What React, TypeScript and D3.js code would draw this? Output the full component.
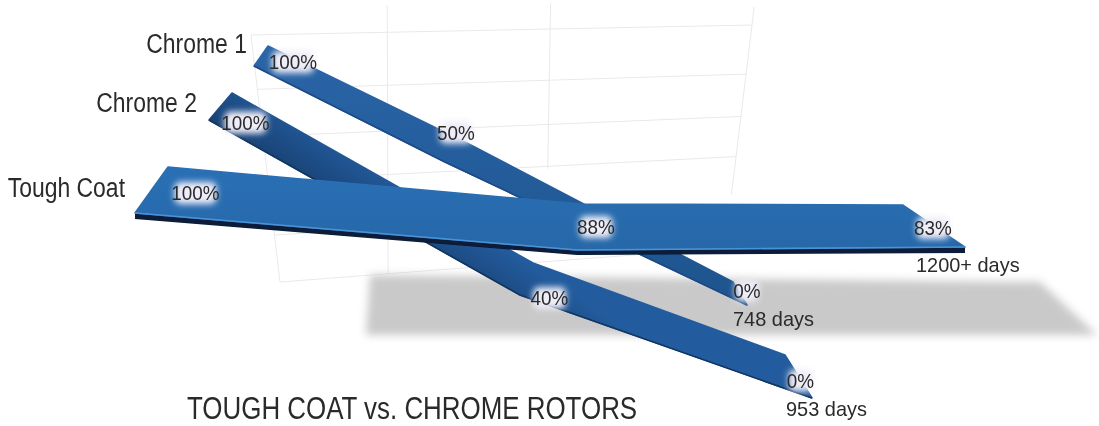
import React from 'react';
import * as d3 from 'd3';

const WIDTH = 1099;
const HEIGHT = 426;

// values
const seriesNames = ['Chrome 1', 'Chrome 2', 'Tough Coat'];
const chrome1Days = [0, 374, 748];
const chrome1Life = [100, 50, 0];
const chrome2Days = [0, 572, 953];
const chrome2Life = [100, 40, 0];
const toughDays = [0, 600, 1200];
const toughLife = [100, 88, 83];
const lifeLabels = [
  ['100%', '50%', '0%'],
  ['100%', '40%', '0%'],
  ['100%', '88%', '83%'],
];
const endLabels = ['748 days', '953 days', '1200+ days'];
const chartTitle = 'TOUGH COAT vs. CHROME ROTORS';

// grid ticks, as fractions of the floor/wall box
const gridRows = [0, 0.22, 0.41, 0.59, 0.81, 1];
const gridRowEnds = [1, 1, 1, 1, 0.25, 0.8];
const gridColsTop = [0, 0.275, 0.597, 1];
const gridColsBottom = [0, 0.243, 0.598, 1];
const gridColStarts = [0, -0.11, -0.11, -0.08];
const gridColEnds = [1, 1, 0.6, 0.76];

const FONT = '"Liberation Sans", Arial, sans-serif';
const INK = '#2b2b2b';

// the drawing is a hand-made perspective: each ribbon has its own projection
const lanes = [
  {
    days: chrome1Days, life: chrome1Life,
    backX: [268, 467, 733], backY: [46, 143, 282],
    frontX: [254, 445, 747], frontY: [66, 162, 305],
    fill: 'url(#chrome1Fill)', edge: '#1c4a85',
    labelDx: [32, 0, 7], labelDy: [6, -20, -3],
    endDx: -14, endDy: 21,
    nameDx: -21, nameDy: 7,
  },
  {
    days: chrome2Days, life: chrome2Life,
    backX: [232, 533, 785], backY: [93, 263, 355],
    frontX: [209, 520, 812], frontY: [120, 295, 398],
    fill: 'url(#chrome2Fill)', edge: '#12345f',
    labelDx: [25, 23, 2], labelDy: [16, 19, 4],
    endDx: -26, endDy: 18,
    nameDx: -35, nameDy: 19,
  },
  {
    days: toughDays, life: toughLife,
    backX: [168, 581, 903], backY: [167, 204, 205],
    frontX: [135, 577, 965], frontY: [213, 250, 247],
    fill: 'url(#toughFill)', edge: '#4a93d8',
    labelDx: [44, 17, -1], labelDy: [3, 0, 2],
    endDx: -49, endDy: 25,
    nameDx: -43, nameDy: 30,
  },
];

const laneScales = (lane: (typeof lanes)[number]) => ({
  backX: d3.scaleLinear().domain(lane.days).range(lane.backX),
  backY: d3.scaleLinear().domain(lane.life).range(lane.backY),
  frontX: d3.scaleLinear().domain(lane.days).range(lane.frontX),
  frontY: d3.scaleLinear().domain(lane.life).range(lane.frontY),
});

// grid box corners
const gridLeftX = d3.scaleLinear().domain([0, 1]).range([251, 280]);
const gridRightX = d3.scaleLinear().domain([0, 1]).range([752, 725]);
const gridLeftY = d3.scaleLinear().domain([0, 1]).range([35, 282]);
const gridRightY = d3.scaleLinear().domain([0, 1]).range([25, 248]);
const gridPoint = (c: number, r: number): [number, number] => [
  d3.interpolateNumber(gridLeftX(r), gridRightX(r))(c),
  d3.interpolateNumber(gridLeftY(r), gridRightY(r))(c),
];

// grey floor shadow is the tough coat ribbon laid flat
const shadowX = d3.scaleLinear().domain([0, 1200]).range([366, 1097]);
const shadowBackX = d3.scaleLinear().domain([0, 1200]).range([370, 1040]);
const shadowBackY = d3.scaleLinear().domain([0, 1200]).range([275, 282]);
const shadowFrontY = 335;

const line = d3.line();

// no narrow face is installed, so squeeze the regular one
const squeeze = (x: number, y: number, sx: number) => `translate(${x},${y}) scale(${sx},1)`;

const App: React.FC = () => {
  const shadowPath = line([
    [shadowBackX(0), shadowBackY(0)],
    [shadowBackX(1200), shadowBackY(1200)],
    [shadowX(1200), shadowFrontY],
    [shadowX(0), shadowFrontY],
  ]) + 'Z';

  return (
    <svg
      width={WIDTH}
      height={HEIGHT}
      viewBox={`0 0 ${WIDTH} ${HEIGHT}`}
      style={{ position: 'absolute', left: 0, top: 0, background: '#fff' }}
    >
      <defs>
        <filter id="soft" x="-10%" y="-30%" width="120%" height="160%">
          <feGaussianBlur stdDeviation="4" />
        </filter>
        <filter id="glow" x="-40%" y="-60%" width="180%" height="220%">
          <feGaussianBlur stdDeviation="3" />
        </filter>
        <filter id="jpeg" x="-5%" y="-20%" width="110%" height="140%">
          <feGaussianBlur stdDeviation="0.35" />
        </filter>
        <filter id="edgeBlur" x="-5%" y="-5%" width="110%" height="110%">
          <feGaussianBlur stdDeviation="0.5" />
        </filter>
        <linearGradient id="chrome1Fill" x1="0" y1="0" x2="0.1" y2="1">
          <stop offset="0" stopColor="#2a65a8" />
          <stop offset="1" stopColor="#1f558f" />
        </linearGradient>
        <linearGradient id="chrome2Fill" gradientUnits="userSpaceOnUse" x1="330" y1="130" x2="300" y2="175">
          <stop offset="0" stopColor="#235c9e" />
          <stop offset="1" stopColor="#1a4478" />
        </linearGradient>
        <linearGradient id="toughFill" gradientUnits="userSpaceOnUse" x1="0" y1="170" x2="0" y2="250">
          <stop offset="0" stopColor="#2a6fb5" />
          <stop offset="1" stopColor="#2668a8" />
        </linearGradient>
      </defs>

      {/* perspective grid */}
      <g stroke="#e9e9e9" strokeWidth={1} fill="none">
        {gridRows.map((r, i) => (
          <path key={`row-${i}`} d={line([gridPoint(0, r), gridPoint(gridRowEnds[i], r)]) ?? ''} />
        ))}
        {gridColsTop.map((c, i) => {
          const colAt = d3.scaleLinear().domain([0, 1]).range([c, gridColsBottom[i]]);
          const endR = gridColEnds[i];
          return (
            <path
              key={`col-${i}`}
              d={line([
                gridPoint(c, gridColStarts[i]),
                gridPoint(colAt(endR), endR),
              ]) ?? ''}
            />
          );
        })}
      </g>

      {/* floor shadow */}
      <path d={shadowPath} fill="#c9c9c9" filter="url(#soft)" />

      {/* ribbons */}
      {lanes.map((lane, i) => {
        const s = laneScales(lane);
        const back = lane.days.map((d, k) => [s.backX(d), s.backY(lane.life[k])] as [number, number]);
        const front = lane.days.map((d, k) => [s.frontX(d), s.frontY(lane.life[k])] as [number, number]);
        const under = front.map(([x, y], k) => [x, y + [6, 5, 6][k]] as [number, number]);
        const isTough = i === 2;
        return (
          <g key={seriesNames[i]}>
            {isTough && (
              <path d={(line([...front, ...[...under].reverse()]) ?? '') + 'Z'} fill="#071a38" filter="url(#edgeBlur)" />
            )}
            <path
              d={(line([...back, ...[...front].reverse()]) ?? '') + 'Z'}
              fill={lane.fill}
              stroke={lane.fill}
              strokeWidth={1.5}
              strokeLinejoin="round"
            />
            <path d={line(front) ?? ''} fill="none" stroke={lane.edge} strokeWidth={1.6} filter="url(#edgeBlur)" />
          </g>
        );
      })}

      {/* label glows, then the labels */}
      {lanes.map((lane, i) => {
        const s = laneScales(lane);
        return lane.days.map((d, k) => {
          const x = (s.backX(d) + s.frontX(d)) / 2 + lane.labelDx[k];
          const y = (s.backY(lane.life[k]) + s.frontY(lane.life[k])) / 2 + lane.labelDy[k];
          const w = lifeLabels[i][k].length * 9 + 6;
          return (
            <rect
              key={`glow-${i}-${k}`}
              x={x - w / 2} y={y - 11} width={w} height={22} rx={6}
              fill="#eeedf8" filter="url(#glow)"
            />
          );
        });
      })}

      <g fontFamily={FONT} fill={INK} filter="url(#jpeg)">
        {lanes.map((lane, i) => {
          const s = laneScales(lane);
          const last = lane.days.length - 1;
          return (
            <g key={`text-${i}`}>
              <text
                transform={squeeze(s.backX(lane.days[0]) + lane.nameDx, s.backY(lane.life[0]) + lane.nameDy, 0.85)}
                textAnchor="end"
                fontSize={27}
              >
                {seriesNames[i]}
              </text>
              {lane.days.map((d, k) => (
                <text
                  key={k}
                  transform={squeeze(
                    (s.backX(d) + s.frontX(d)) / 2 + lane.labelDx[k],
                    (s.backY(lane.life[k]) + s.frontY(lane.life[k])) / 2 + lane.labelDy[k] + 7,
                    0.9,
                  )}
                  textAnchor="middle"
                  fontSize={21}
                >
                  {lifeLabels[i][k]}
                </text>
              ))}
              <text
                transform={squeeze(s.frontX(lane.days[last]) + lane.endDx, s.frontY(lane.life[last]) + lane.endDy, 0.95)}
                fontSize={21}
              >
                {endLabels[i]}
              </text>
            </g>
          );
        })}
        <text transform={squeeze(187, 419, 0.81)} fontSize={32}>{chartTitle}</text>
      </g>
    </svg>
  );
};

export default App;
